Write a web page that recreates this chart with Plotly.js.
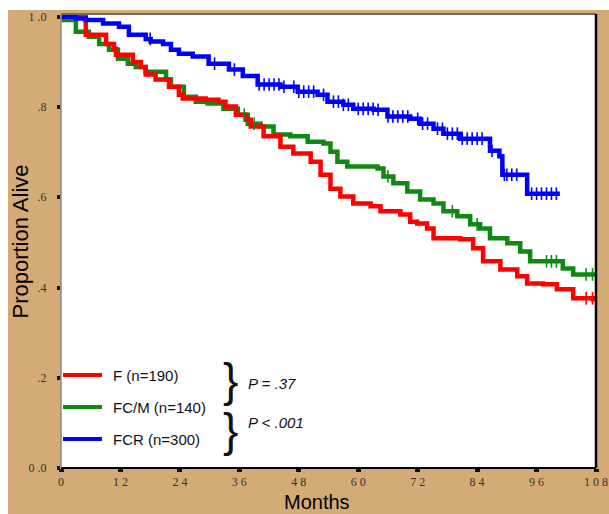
<!DOCTYPE html>
<html>
<head>
<meta charset="utf-8">
<script src="https://cdn.plot.ly/plotly-3.0.1.min.js"></script>
<style>
  html, body { margin: 0; padding: 0; background: #ffffff; }
  #chart { position: absolute; left: 8px; top: 10px; width: 601px; height: 504px; }
</style>
</head>
<body>
<div id="chart"></div>
<script>
// ---- Data ----
var seriesNames = ["F (n=190)", "FC/M (n=140)", "FCR (n=300)"];
var pLabels = ["P = .37", "P < .001"];
var xTitle = "Months";
var yTitle = "Proportion Alive";

// Step points: time (months) at which survival drops to the given value
var fMonths = [0, 5.0, 9.1, 10.7, 11.1, 14.5, 16.1, 17.1, 19.1, 21.8, 23.8, 24.6, 29.2, 31.8, 33.2, 35.3, 37.3, 38.3, 40.9, 44.3, 46.9, 50.4, 52.4, 54.4, 56.4, 59.0, 62.5, 64.5, 68.5, 70.5, 71.9, 73.9, 75.2, 80.6, 83.2, 85.2, 88.7, 92.1, 94.1, 97.3, 100.1, 103.4, 107.4, 108];
var fSurv   = [1.0, 0.960, 0.940, 0.929, 0.916, 0.900, 0.889, 0.872, 0.861, 0.845, 0.827, 0.819, 0.816, 0.812, 0.801, 0.783, 0.772, 0.757, 0.735, 0.712, 0.697, 0.679, 0.650, 0.619, 0.602, 0.586, 0.580, 0.569, 0.562, 0.546, 0.542, 0.531, 0.509, 0.507, 0.487, 0.458, 0.440, 0.425, 0.409, 0.407, 0.396, 0.376, 0.374, 0.374];
var fCensor = [106, 107.3];

var fcmMonths = [0, 0.5, 3.0, 5.6, 7.7, 9.7, 11.5, 13.5, 15.1, 17.1, 21.2, 22.2, 24.8, 27.2, 29.6, 32.8, 35.7, 37.7, 40.3, 42.9, 46.3, 49.8, 53.0, 54.4, 55.8, 57.8, 63.9, 65.1, 67.1, 69.9, 72.5, 75.2, 77.2, 80.0, 82.6, 84.6, 86.6, 90.1, 92.7, 94.7, 101.3, 103.4, 108];
var fcmSurv   = [1.0, 0.993, 0.967, 0.956, 0.940, 0.927, 0.907, 0.896, 0.889, 0.878, 0.861, 0.845, 0.823, 0.812, 0.808, 0.796, 0.783, 0.763, 0.757, 0.739, 0.735, 0.723, 0.719, 0.701, 0.679, 0.668, 0.664, 0.646, 0.631, 0.613, 0.595, 0.586, 0.569, 0.558, 0.540, 0.531, 0.509, 0.498, 0.480, 0.458, 0.442, 0.429, 0.429];
var fcmCensor = [37, 39, 66, 79, 84, 98, 99, 100, 106, 107.3];

var fcrMonths = [0, 3.0, 5.0, 8.5, 11.7, 13.7, 17.1, 18.1, 20.6, 22.2, 23.8, 26.6, 29.8, 33.9, 36.7, 39.7, 44.3, 47.8, 51.8, 53.8, 57.0, 59.0, 63.1, 65.9, 70.5, 72.5, 75.2, 77.2, 80.6, 86.6, 88.5, 89.1, 94.1, 100.7];
var fcrSurv   = [1.0, 0.996, 0.993, 0.985, 0.978, 0.960, 0.951, 0.945, 0.940, 0.927, 0.918, 0.912, 0.896, 0.883, 0.869, 0.850, 0.845, 0.834, 0.827, 0.812, 0.805, 0.796, 0.794, 0.779, 0.774, 0.763, 0.752, 0.741, 0.730, 0.703, 0.691, 0.650, 0.608, 0.608];
var fcrCensor = [18, 31, 35, 40, 41, 42, 43, 44, 45, 47, 48, 49, 50, 51, 53, 55, 56, 57, 58, 60, 61, 62, 63, 64, 66, 67, 68, 69, 70, 72, 73, 74, 76, 77, 78, 79, 80, 81, 82, 83, 84, 85, 87, 89.5, 90, 91, 92, 95, 96, 97, 98, 99, 100];

var xTickVals = [0, 12, 24, 36, 48, 60, 72, 84, 96, 108];
var xTickText = ["0", "1 2", "2 4", "3 6", "4 8", "6 0", "7 2", "8 4", "9 6", "1 0 8"];
var yTickVals = [0, 0.2, 0.4, 0.6, 0.8, 1.0];
var yTickText = ["0 .0", ".2", ".4", ".6", ".8", "1 .0"];

var colors = ["#ff0000", "#118811", "#0000ff"];

// ---- helpers ----
function survAt(months, surv, t) {
  var v = surv[0];
  for (var i = 0; i < months.length; i++) { if (months[i] <= t) v = surv[i]; }
  return v;
}
function censorTrace(months, surv, cens, color) {
  return {
    x: cens, y: cens.map(function (c) { return survAt(months, surv, c); }),
    mode: "markers", type: "scatter", showlegend: false, hoverinfo: "skip",
    marker: { symbol: "line-ns", size: 9, color: color, line: { color: color, width: 1.6 } }
  };
}
function lineTrace(months, surv, name, color) {
  return {
    x: months, y: surv, name: name, mode: "lines", type: "scatter",
    line: { shape: "hv", color: color, width: 4.5 }, showlegend: false
  };
}

var traces = [
  lineTrace(fcmMonths, fcmSurv, seriesNames[1], colors[1]),
  lineTrace(fMonths, fSurv, seriesNames[0], colors[0]),
  lineTrace(fcrMonths, fcrSurv, seriesNames[2], colors[2]),
  censorTrace(fcmMonths, fcmSurv, fcmCensor, colors[1]),
  censorTrace(fMonths, fSurv, fCensor, colors[0]),
  censorTrace(fcrMonths, fcrSurv, fcrCensor, colors[2])
];

// layout helpers: pixel (image) -> paper
function PX(px) { return (px - 61) / 535; }
function PY(py) { return (468 - py) / 453; }

var legendY = [PY(375), PY(407), PY(439)];
var shapes = [
  // frame
  { type: "line", xref: "paper", yref: "paper", x0: 0, x1: 1, y0: 1.002, y1: 1.002, line: { color: "#555", width: 1.5 } },
  { type: "line", xref: "paper", yref: "paper", x0: 1, x1: 1, y0: 0, y1: 1.002, line: { color: "#000", width: 2.5 } },
  { type: "line", xref: "paper", yref: "paper", x0: 0, x1: 1, y0: 0, y1: 0, line: { color: "#000", width: 2 } },
  { type: "line", xref: "paper", yref: "paper", x0: 0, x1: 0, y0: 0, y1: 1.002, line: { color: "#888", width: 1.5 } }
];
var annotations = [];
var sans = "Liberation Sans, Arial, sans-serif";
for (var i = 0; i < 3; i++) {
  shapes.push({ type: "line", xref: "paper", yref: "paper", x0: PX(63), x1: PX(102), y0: legendY[i], y1: legendY[i],
                line: { color: colors[i], width: 4 } });
  annotations.push({ xref: "paper", yref: "paper", x: PX(111), y: legendY[i], xanchor: "left", yanchor: "middle",
                     text: seriesNames[i], showarrow: false, font: { family: sans, size: 15, color: "#111" } });
}
annotations.push({ xref: "paper", yref: "paper", x: PX(230), y: PY(380), xanchor: "center", yanchor: "middle", text: "}",
                   showarrow: false, font: { family: sans, size: 46, color: "#111" } });
annotations.push({ xref: "paper", yref: "paper", x: PX(230), y: PY(430), xanchor: "center", yanchor: "middle", text: "}",
                   showarrow: false, font: { family: sans, size: 46, color: "#111" } });
annotations.push({ xref: "paper", yref: "paper", x: PX(246), y: PY(383), xanchor: "left", yanchor: "middle", text: "<i>" + pLabels[0] + "</i>",
                   showarrow: false, font: { family: sans, size: 15, color: "#111" } });
annotations.push({ xref: "paper", yref: "paper", x: PX(246), y: PY(422), xanchor: "left", yanchor: "middle", text: "<i>" + pLabels[1] + "</i>",
                   showarrow: false, font: { family: sans, size: 15, color: "#111" } });
// x-axis title (placed slightly left of centre, as in the reference)
annotations.push({ xref: "paper", yref: "paper", x: PX(317), y: PY(502), xanchor: "center", yanchor: "middle", text: xTitle,
                   showarrow: false, font: { family: sans, size: 20, color: "#000" } });

var layout = {
  width: 601, height: 504,
  margin: { l: 53, r: 13, t: 5, b: 46 },
  paper_bgcolor: "#d4ab76",
  plot_bgcolor: "#ffffff",
  showlegend: false,
  xaxis: {
    range: [0, 108], tickvals: xTickVals, ticktext: xTickText,
    showgrid: false, zeroline: false, showline: false,
    ticks: "outside", ticklen: 3, tickwidth: 5, tickcolor: "#111",
    ticklabelstandoff: 0,
    tickfont: { family: "Liberation Serif, Times New Roman, serif", size: 12, color: "#333" },
    automargin: false, fixedrange: true
  },
  yaxis: {
    range: [0, 1.004], tickvals: yTickVals, ticktext: yTickText,
    showgrid: false, zeroline: false, showline: false,
    ticks: "outside", ticklen: 3, tickwidth: 4, tickcolor: "#111",
    ticklabelstandoff: 8,
    tickfont: { family: "Liberation Serif, Times New Roman, serif", size: 12, color: "#333" },
    title: { text: yTitle, standoff: 1, font: { family: sans, size: 22, color: "#000" } },
    automargin: false, fixedrange: true
  },
  shapes: shapes,
  annotations: annotations
};

Plotly.newPlot("chart", traces, layout, { displayModeBar: false, staticPlot: true });
</script>
</body>
</html>
